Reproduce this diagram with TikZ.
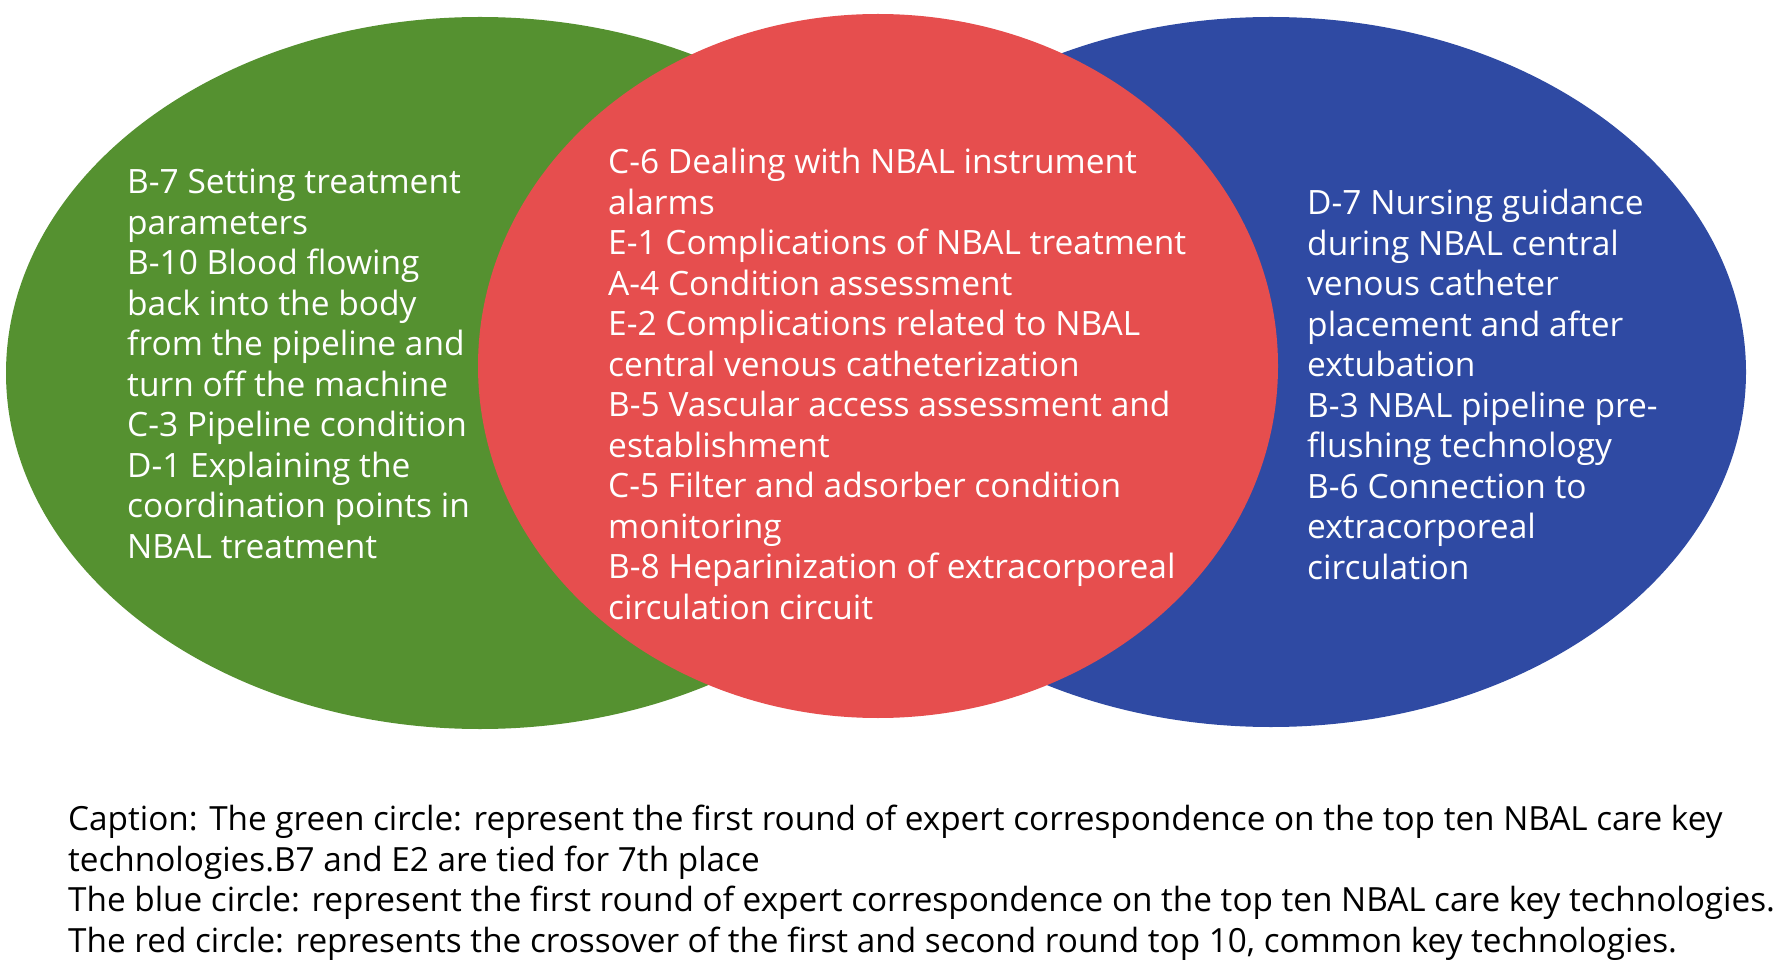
\documentclass[tikz,border=0pt]{standalone}
\usepackage{fontspec}
\setmainfont{Open Sans}
\definecolor{vgreen}{RGB}{85,145,48}
\definecolor{vred}{RGB}{230,78,78}
\definecolor{vblue}{RGB}{47,74,163}
\begin{document}
\begin{tikzpicture}[x=1pt,y=-1pt,
  lbl/.style={anchor=north west, inner sep=0pt, align=left, text=white, font=\fontsize{33.5}{40.5}\selectfont},
  captxt/.style={anchor=north west, inner sep=0pt, align=left, text=black, font=\fontsize{33.3}{40.5}\selectfont}]
\useasboundingbox (0,0) rectangle (1783,965);
\fill[white] (0,0) rectangle (1783,965);
\fill[vgreen] (480,373) ellipse [x radius=474pt, y radius=356pt];
\fill[vblue] (1271,372) ellipse [x radius=475pt, y radius=355pt];
\fill[vred] (878,366) ellipse [x radius=400pt, y radius=352pt];
\node[lbl] (g) at (127,169) {B-7 Setting treatment\\parameters\\B-10 Blood flowing\\back into the body\\from the pipeline and\\turn off the machine\\C-3 Pipeline condition\\D-1 Explaining the\\coordination points in\\NBAL treatment};
\node[lbl] (r) at (608,148) {C-6 Dealing with NBAL instrument\\alarms\\E-1 Complications of NBAL treatment\\A-4 Condition assessment\\E-2 Complications related to NBAL\\central venous catheterization\\B-5 Vascular access assessment and\\establishment\\C-5 Filter and adsorber condition\\monitoring\\B-8 Heparinization of extracorporeal\\circulation circuit};
\node[lbl] (b) at (1307,189) {D-7 Nursing guidance\\during NBAL central\\venous catheter\\placement and after\\extubation\\B-3 NBAL pipeline pre-\\flushing technology\\B-6 Connection to\\extracorporeal\\circulation};
\node[captxt] (c) at (68,805) {Caption: The green circle: represent the first round of expert correspondence on the top ten NBAL care key\\technologies.B7 and E2 are tied for 7th place\\The blue circle: represent the first round of expert correspondence on the top ten NBAL care key technologies.\\The red circle: represents the crossover of the first and second round top 10, common key technologies.};
\end{tikzpicture}
\end{document}
